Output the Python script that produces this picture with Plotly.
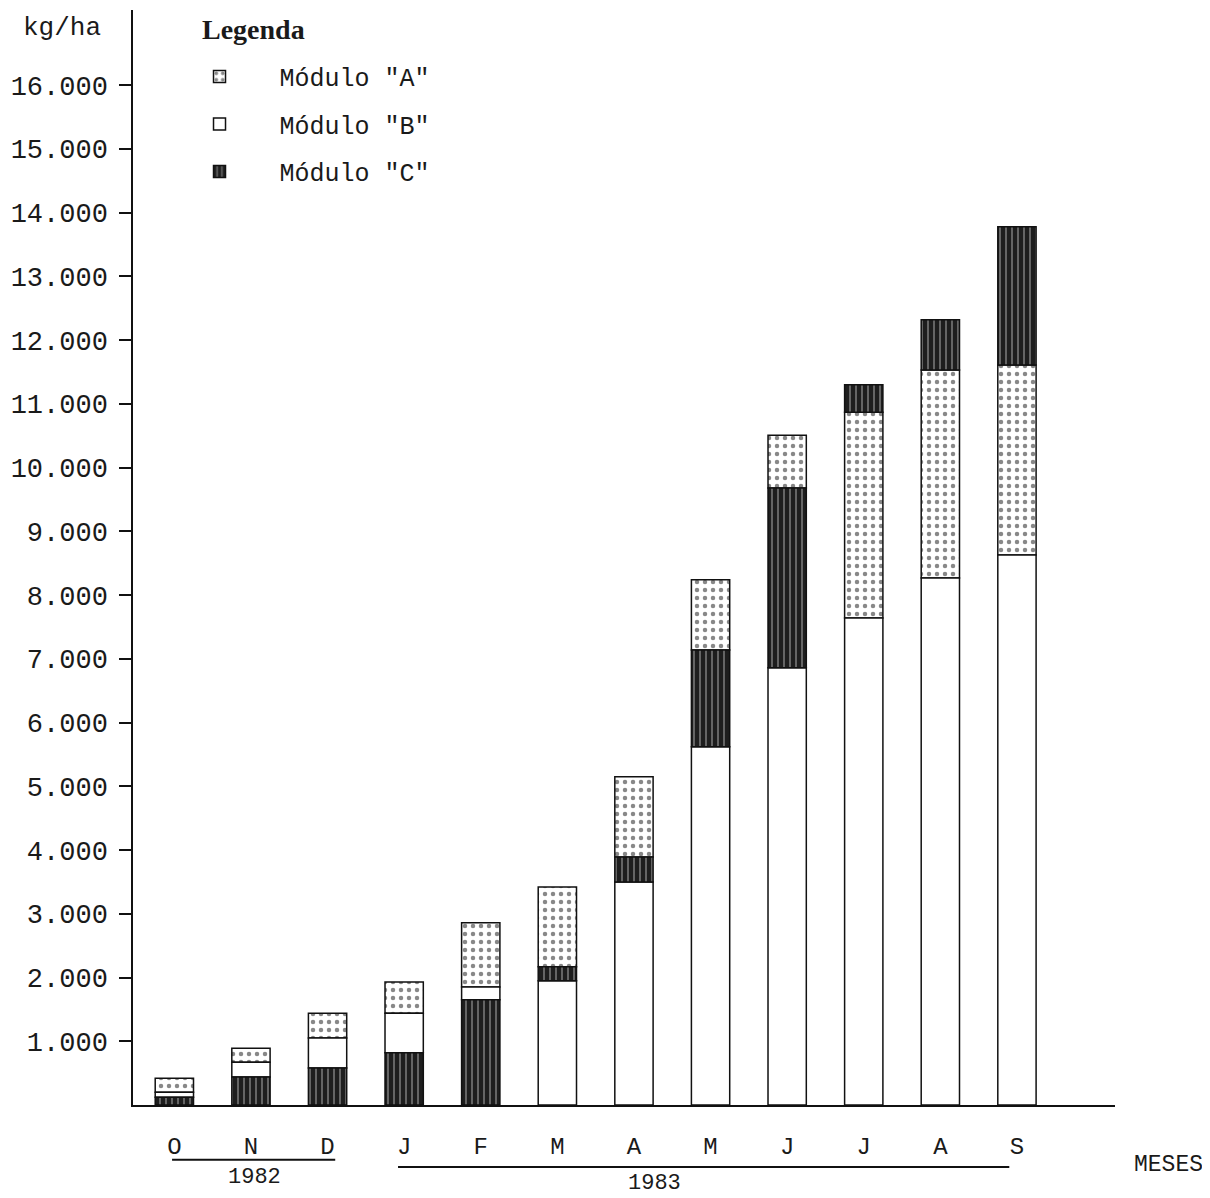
import plotly.graph_objects as go

# ---- data (kg/ha) ----
months = ["O", "N", "D", "J", "F", "M", "A", "M", "J", "J", "A", "S"]
mod_a = [220, 220, 390, 490, 1010, 1250, 1260, 1100, 830, 3230, 3260, 2980]
mod_b = [80, 230, 470, 620, 200, 1950, 3500, 5620, 6860, 7640, 8270, 8630]
mod_c = [120, 440, 580, 820, 1650, 220, 390, 1520, 2820, 430, 790, 2170]
# stacking order of the modules in each bar (bottom -> top)
stack_order = ["CBA", "CBA", "CBA", "CBA", "CBA", "BCA", "BCA", "BCA", "BCA", "BAC", "BAC", "BAC"]
y_tick_values = [1000, 2000, 3000, 4000, 5000, 6000, 7000, 8000,
                 9000, 10000, 11000, 12000, 13000, 14000, 15000, 16000]
years = ["1982", "1983"]
year_months = [(0, 2), (3, 11)]

values = {"A": mod_a, "B": mod_b, "C": mod_c}
names = {"A": 'Módulo "A"', "B": 'Módulo "B"', "C": 'Módulo "C"'}

# bases computed from the stacking order
bases = {k: [] for k in values}
for i, order in enumerate(stack_order):
    acc = 0
    for k in order:
        bases[k].append(acc)
        acc += values[k][i]

x = list(range(len(months)))
MONO = "Liberation Mono, Courier New, monospace"
SERIF = "Liberation Serif, DejaVu Serif, serif"

styles = {
    "A": dict(color="white", pattern=dict(shape=".", fgcolor="#111", bgcolor="white",
                                          size=8, solidity=0.25)),
    "B": dict(color="white"),
    "C": dict(color="#1e1e1e", pattern=dict(shape="|", fgcolor="#bdbdbd", bgcolor="#1e1e1e",
                                            size=6, solidity=0.3)),
}

fig = go.Figure()
for k in ["A", "B", "C"]:
    fig.add_trace(go.Bar(
        x=x, y=values[k], base=bases[k], name=names[k], width=0.5,
        legendgroup=k,
        marker=dict(line=dict(color="#111", width=1.5), **styles[k]),
    ))

# the page adds an 8 px body margin, so the figure is 8 px smaller than the window
fig.update_layout(
    width=1202, height=1190,
    margin=dict(l=125, r=95, t=2, b=93),
    barmode="overlay",
    plot_bgcolor="white", paper_bgcolor="white",
    separators=",.",
    font=dict(family=MONO, size=25, color="#1a1a1a"),
    showlegend=True,
    legend=dict(
        x=0.027, y=0.960, xanchor="left", yanchor="top",
        font=dict(family=MONO, size=25),
        traceorder="grouped", tracegroupgap=12, itemwidth=110,
        bgcolor="rgba(0,0,0,0)",
    ),
    xaxis=dict(
        range=[-0.54, 12.28], tickmode="array", tickvals=x, ticktext=months,
        showline=True, linecolor="#111", linewidth=1.5,
        ticks="outside", ticklen=18, tickcolor="rgba(0,0,0,0)",
        showgrid=False, zeroline=False,
        tickfont=dict(family=MONO, size=24),
    ),
    yaxis=dict(
        range=[0, 17180], tickmode="array", tickvals=y_tick_values,
        tickformat=",d",
        showline=True, linecolor="#111", linewidth=1.5,
        ticks="outside", ticklen=12, tickwidth=1.5, tickcolor="#111",
        ticklabelstandoff=6,
        showgrid=False, zeroline=False,
        tickfont=dict(family=MONO, size=27),
    ),
)

# year brackets under the month labels
line_y = [-0.0500, -0.0566]
line_x = [(-0.03, 2.10), (2.92, 10.9)]
label_x = [1.05, 6.27]
label_y = [-0.0665, -0.0720]
for (x0, x1), ly, yr, tx, ty in zip(line_x, line_y, years, label_x, label_y):
    fig.add_shape(type="line", xref="x", yref="paper",
                  x0=x0, x1=x1, y0=ly, y1=ly, line=dict(color="#111", width=2))
    fig.add_annotation(xref="x", yref="paper", x=tx, y=ty, text=yr, showarrow=False,
                       xanchor="center", yanchor="middle",
                       font=dict(family=MONO, size=22))

fig.add_annotation(xref="paper", yref="paper", x=1.054, y=-0.055, text="MESES",
                   showarrow=False, xanchor="center", yanchor="middle",
                   font=dict(family=MONO, size=23))
fig.add_annotation(xref="paper", yref="paper", x=-0.072, y=0.984, text="kg/ha",
                   showarrow=False, xanchor="center", yanchor="middle",
                   font=dict(family=MONO, size=26))
fig.add_annotation(xref="paper", yref="paper", x=0.068, y=0.982, text="<b>Legenda</b>",
                   showarrow=False, xanchor="left", yanchor="middle",
                   font=dict(family=SERIF, size=28))

fig.write_html("out.html")
